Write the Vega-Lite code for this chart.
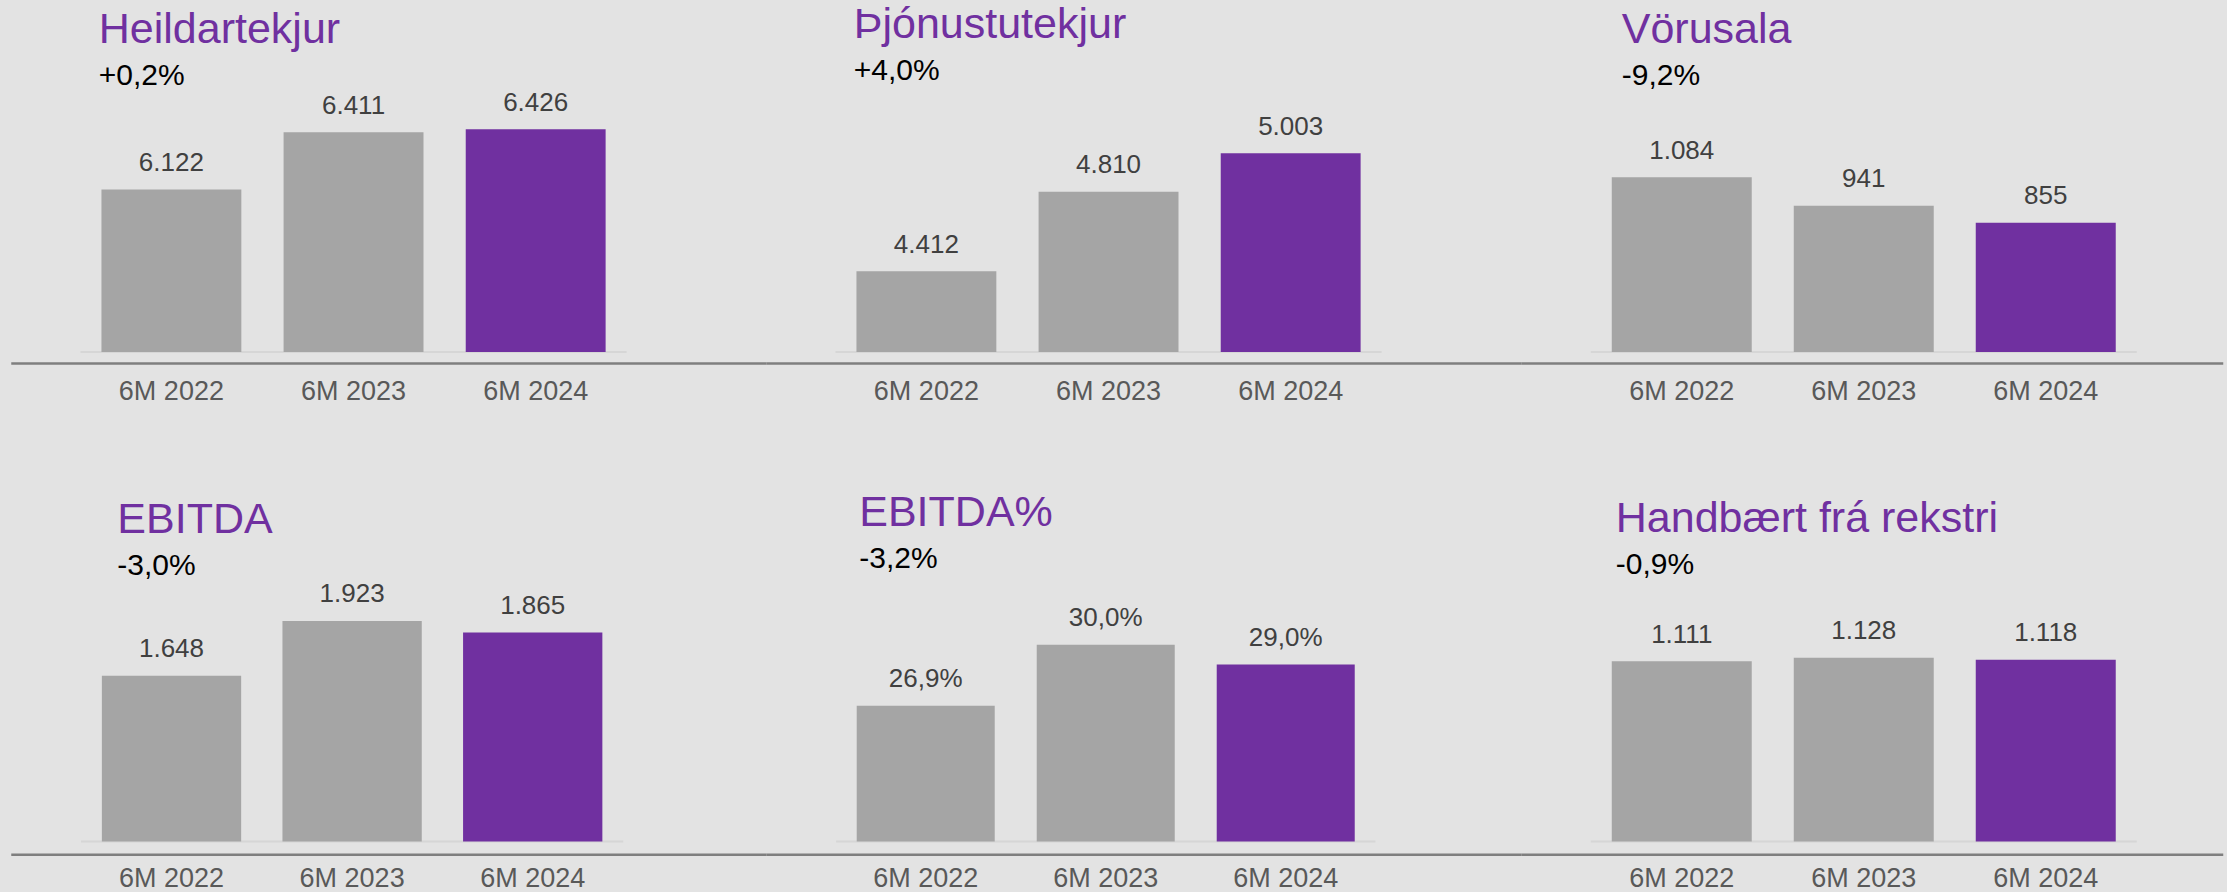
{
  "$schema": "https://vega.github.io/schema/vega-lite/v6.json",
  "background": "#e3e3e3",
  "padding": {"left": 10.75, "top": 4, "right": 3.75, "bottom": 0},
  "config": {
    "view": {"stroke": null},
    "font": "Liberation Sans",
    "title": {"anchor": "start", "frame": "group", "font": "Liberation Sans", "fontSize": 43, "fontWeight": "normal", "color": "#7030a0", "subtitleFont": "Liberation Sans", "subtitleFontSize": 30, "subtitleFontWeight": "normal", "subtitleColor": "#000000", "subtitlePadding": 9, "offset": -31.3},
    "axis": {"labelFont": "Liberation Sans", "labelFontSize": 27, "labelColor": "#595959", "domainColor": "#7f7f7f", "domainWidth": 2.5, "ticks": false, "tickSize": 0, "grid": false, "labelAngle": 0, "labelBaseline": "alphabetic"},
    "text": {"font": "Liberation Sans", "fontSize": 26, "color": "#404040", "baseline": "alphabetic", "align": "center", "dy": -18.5},
    "locale": {"number": {"decimal": ",", "thousands": ".", "grouping": [3], "currency": ["", ""]}}
  },
  "datasets": {
    "kpi": [
      {"metric": "Heildartekjur", "period": "6M 2022", "value": 6122},
      {"metric": "Heildartekjur", "period": "6M 2023", "value": 6411},
      {"metric": "Heildartekjur", "period": "6M 2024", "value": 6426},
      {"metric": "Þjónustutekjur", "period": "6M 2022", "value": 4412},
      {"metric": "Þjónustutekjur", "period": "6M 2023", "value": 4810},
      {"metric": "Þjónustutekjur", "period": "6M 2024", "value": 5003},
      {"metric": "Vörusala", "period": "6M 2022", "value": 1084},
      {"metric": "Vörusala", "period": "6M 2023", "value": 941},
      {"metric": "Vörusala", "period": "6M 2024", "value": 855},
      {"metric": "EBITDA", "period": "6M 2022", "value": 1648},
      {"metric": "EBITDA", "period": "6M 2023", "value": 1923},
      {"metric": "EBITDA", "period": "6M 2024", "value": 1865},
      {"metric": "EBITDA%", "period": "6M 2022", "value": 0.269},
      {"metric": "EBITDA%", "period": "6M 2023", "value": 0.300},
      {"metric": "EBITDA%", "period": "6M 2024", "value": 0.290},
      {"metric": "Handbært frá rekstri", "period": "6M 2022", "value": 1111},
      {"metric": "Handbært frá rekstri", "period": "6M 2023", "value": 1128},
      {"metric": "Handbært frá rekstri", "period": "6M 2024", "value": 1118}
    ]
  },
  "columns": 3,
  "spacing": {"row": 197.6, "column": 0},
  "bounds": "flush",
  "align": "each",
  "concat": [
    {
      "data": {"name": "kpi"},
      "transform": [{"filter": {"field": "metric", "equal": "Heildartekjur"}}],
      "title": {"text": "Heildartekjur", "subtitle": "+0,2%", "dx": 88},
      "width": 755, "height": 292,
      "layer": [
        {"transform": [{"filter": {"field": "period", "equal": "6M 2024"}}],
         "mark": {"type": "rule", "color": "#d6d6d6", "strokeWidth": 2},
         "encoding": {
           "x": {"datum": "6M 2022", "type": "nominal", "bandPosition": -0.15, "scale": {"domain": ["6M 2022", "6M 2023", "6M 2024"], "paddingInner": 0.232, "paddingOuter": 0.6885, "align": 0.3616}, "axis": {"title": null, "offset": 11, "labelPadding": 36.3}},
           "x2": {"datum": "6M 2024", "bandPosition": 1.15},
           "y": {"datum": 5303.6, "type": "quantitative", "scale": {"domain": [5303.6, 6775], "nice": false, "zero": false, "clamp": true}, "axis": null}}},
        {"mark": {"type": "bar"},
         "encoding": {
           "x": {"field": "period", "type": "nominal", "sort": null, "scale": {"domain": ["6M 2022", "6M 2023", "6M 2024"], "paddingInner": 0.232, "paddingOuter": 0.6885, "align": 0.3616}, "axis": {"title": null, "offset": 11, "labelPadding": 36.3}},
           "y": {"field": "value", "type": "quantitative", "scale": {"domain": [5303.6, 6775], "nice": false, "zero": false, "clamp": true}, "axis": null},
           "color": {"field": "period", "type": "nominal", "scale": {"domain": ["6M 2022", "6M 2023", "6M 2024"], "range": ["#a5a5a5", "#a5a5a5", "#7030a0"]}, "legend": null}}},
        {"mark": {"type": "text"},
         "encoding": {
           "x": {"field": "period", "type": "nominal", "sort": null, "scale": {"domain": ["6M 2022", "6M 2023", "6M 2024"], "paddingInner": 0.232, "paddingOuter": 0.6885, "align": 0.3616}, "axis": {"title": null, "offset": 11, "labelPadding": 36.3}},
           "y": {"field": "value", "type": "quantitative", "scale": {"domain": [5303.6, 6775], "nice": false, "zero": false, "clamp": true}, "axis": null},
           "text": {"field": "value", "format": ",.0f"}}}
      ]
    },
    {
      "data": {"name": "kpi"},
      "transform": [{"filter": {"field": "metric", "equal": "Þjónustutekjur"}}],
      "title": {"text": "Þjónustutekjur", "subtitle": "+4,0%", "dx": 88, "dy": -5},
      "width": 755, "height": 292,
      "layer": [
        {"transform": [{"filter": {"field": "period", "equal": "6M 2024"}}],
         "mark": {"type": "rule", "color": "#d6d6d6", "strokeWidth": 2},
         "encoding": {
           "x": {"datum": "6M 2022", "type": "nominal", "bandPosition": -0.15, "scale": {"domain": ["6M 2022", "6M 2023", "6M 2024"], "paddingInner": 0.232, "paddingOuter": 0.6885, "align": 0.3616}, "axis": {"title": null, "offset": 11, "labelPadding": 36.3}},
           "x2": {"datum": "6M 2024", "bandPosition": 1.15},
           "y": {"datum": 4007.7, "type": "quantitative", "scale": {"domain": [4007.7, 5470.6], "nice": false, "zero": false, "clamp": true}, "axis": null}}},
        {"mark": {"type": "bar"},
         "encoding": {
           "x": {"field": "period", "type": "nominal", "sort": null, "scale": {"domain": ["6M 2022", "6M 2023", "6M 2024"], "paddingInner": 0.232, "paddingOuter": 0.6885, "align": 0.3616}, "axis": {"title": null, "offset": 11, "labelPadding": 36.3}},
           "y": {"field": "value", "type": "quantitative", "scale": {"domain": [4007.7, 5470.6], "nice": false, "zero": false, "clamp": true}, "axis": null},
           "color": {"field": "period", "type": "nominal", "scale": {"domain": ["6M 2022", "6M 2023", "6M 2024"], "range": ["#a5a5a5", "#a5a5a5", "#7030a0"]}, "legend": null}}},
        {"mark": {"type": "text"},
         "encoding": {
           "x": {"field": "period", "type": "nominal", "sort": null, "scale": {"domain": ["6M 2022", "6M 2023", "6M 2024"], "paddingInner": 0.232, "paddingOuter": 0.6885, "align": 0.3616}, "axis": {"title": null, "offset": 11, "labelPadding": 36.3}},
           "y": {"field": "value", "type": "quantitative", "scale": {"domain": [4007.7, 5470.6], "nice": false, "zero": false, "clamp": true}, "axis": null},
           "text": {"field": "value", "format": ",.0f"}}}
      ]
    },
    {
      "data": {"name": "kpi"},
      "transform": [{"filter": {"field": "metric", "equal": "Vörusala"}}],
      "title": {"text": "Vörusala", "subtitle": "-9,2%", "dx": 101},
      "width": 702, "height": 292,
      "layer": [
        {"transform": [{"filter": {"field": "period", "equal": "6M 2024"}}],
         "mark": {"type": "rule", "color": "#d6d6d6", "strokeWidth": 2},
         "encoding": {
           "x": {"datum": "6M 2022", "type": "nominal", "bandPosition": -0.15, "scale": {"domain": ["6M 2022", "6M 2023", "6M 2024"], "paddingInner": 0.2308, "paddingOuter": 0.544, "align": 0.4596}, "axis": {"title": null, "offset": 11, "labelPadding": 36.3}},
           "x2": {"datum": "6M 2024", "bandPosition": 1.15},
           "y": {"datum": 202, "type": "quantitative", "scale": {"domain": [202, 1676.6], "nice": false, "zero": false, "clamp": true}, "axis": null}}},
        {"mark": {"type": "bar"},
         "encoding": {
           "x": {"field": "period", "type": "nominal", "sort": null, "scale": {"domain": ["6M 2022", "6M 2023", "6M 2024"], "paddingInner": 0.2308, "paddingOuter": 0.544, "align": 0.4596}, "axis": {"title": null, "offset": 11, "labelPadding": 36.3}},
           "y": {"field": "value", "type": "quantitative", "scale": {"domain": [202, 1676.6], "nice": false, "zero": false, "clamp": true}, "axis": null},
           "color": {"field": "period", "type": "nominal", "scale": {"domain": ["6M 2022", "6M 2023", "6M 2024"], "range": ["#a5a5a5", "#a5a5a5", "#7030a0"]}, "legend": null}}},
        {"mark": {"type": "text"},
         "encoding": {
           "x": {"field": "period", "type": "nominal", "sort": null, "scale": {"domain": ["6M 2022", "6M 2023", "6M 2024"], "paddingInner": 0.2308, "paddingOuter": 0.544, "align": 0.4596}, "axis": {"title": null, "offset": 11, "labelPadding": 36.3}},
           "y": {"field": "value", "type": "quantitative", "scale": {"domain": [202, 1676.6], "nice": false, "zero": false, "clamp": true}, "axis": null},
           "text": {"field": "value", "format": ",.0f"}}}
      ]
    },
    {
      "data": {"name": "kpi"},
      "transform": [{"filter": {"field": "metric", "equal": "EBITDA"}}],
      "title": {"text": "EBITDA", "subtitle": "-3,0%", "dx": 106.6},
      "width": 755, "height": 292,
      "layer": [
        {"transform": [{"filter": {"field": "period", "equal": "6M 2024"}}],
         "mark": {"type": "rule", "color": "#d6d6d6", "strokeWidth": 2},
         "encoding": {
           "x": {"datum": "6M 2022", "type": "nominal", "bandPosition": -0.15, "scale": {"domain": ["6M 2022", "6M 2023", "6M 2024"], "paddingInner": 0.2287, "paddingOuter": 0.7046, "align": 0.358}, "axis": {"title": null, "offset": 12.7, "labelPadding": 32}},
           "x2": {"datum": "6M 2024", "bandPosition": 1.15},
           "y": {"datum": 815, "type": "quantitative", "scale": {"domain": [815, 2280.8], "nice": false, "zero": false, "clamp": true}, "axis": null}}},
        {"mark": {"type": "bar"},
         "encoding": {
           "x": {"field": "period", "type": "nominal", "sort": null, "scale": {"domain": ["6M 2022", "6M 2023", "6M 2024"], "paddingInner": 0.2287, "paddingOuter": 0.7046, "align": 0.358}, "axis": {"title": null, "offset": 12.7, "labelPadding": 32}},
           "y": {"field": "value", "type": "quantitative", "scale": {"domain": [815, 2280.8], "nice": false, "zero": false, "clamp": true}, "axis": null},
           "color": {"field": "period", "type": "nominal", "scale": {"domain": ["6M 2022", "6M 2023", "6M 2024"], "range": ["#a5a5a5", "#a5a5a5", "#7030a0"]}, "legend": null}}},
        {"mark": {"type": "text"},
         "encoding": {
           "x": {"field": "period", "type": "nominal", "sort": null, "scale": {"domain": ["6M 2022", "6M 2023", "6M 2024"], "paddingInner": 0.2287, "paddingOuter": 0.7046, "align": 0.358}, "axis": {"title": null, "offset": 12.7, "labelPadding": 32}},
           "y": {"field": "value", "type": "quantitative", "scale": {"domain": [815, 2280.8], "nice": false, "zero": false, "clamp": true}, "axis": null},
           "text": {"field": "value", "format": ",.0f"}}}
      ]
    },
    {
      "data": {"name": "kpi"},
      "transform": [{"filter": {"field": "metric", "equal": "EBITDA%"}}],
      "title": {"text": "EBITDA%", "subtitle": "-3,2%", "dx": 93.5, "dy": -7.3},
      "width": 755, "height": 292,
      "layer": [
        {"transform": [{"filter": {"field": "period", "equal": "6M 2024"}}],
         "mark": {"type": "rule", "color": "#d6d6d6", "strokeWidth": 2},
         "encoding": {
           "x": {"datum": "6M 2022", "type": "nominal", "bandPosition": -0.15, "scale": {"domain": ["6M 2022", "6M 2023", "6M 2024"], "paddingInner": 0.2333, "paddingOuter": 0.7139, "align": 0.354}, "axis": {"title": null, "offset": 12.7, "labelPadding": 32}},
           "x2": {"datum": "6M 2024", "bandPosition": 1.15},
           "y": {"datum": 0.2, "type": "quantitative", "scale": {"domain": [0.2, 0.3483], "nice": false, "zero": false, "clamp": true}, "axis": null}}},
        {"mark": {"type": "bar"},
         "encoding": {
           "x": {"field": "period", "type": "nominal", "sort": null, "scale": {"domain": ["6M 2022", "6M 2023", "6M 2024"], "paddingInner": 0.2333, "paddingOuter": 0.7139, "align": 0.354}, "axis": {"title": null, "offset": 12.7, "labelPadding": 32}},
           "y": {"field": "value", "type": "quantitative", "scale": {"domain": [0.2, 0.3483], "nice": false, "zero": false, "clamp": true}, "axis": null},
           "color": {"field": "period", "type": "nominal", "scale": {"domain": ["6M 2022", "6M 2023", "6M 2024"], "range": ["#a5a5a5", "#a5a5a5", "#7030a0"]}, "legend": null}}},
        {"mark": {"type": "text"},
         "encoding": {
           "x": {"field": "period", "type": "nominal", "sort": null, "scale": {"domain": ["6M 2022", "6M 2023", "6M 2024"], "paddingInner": 0.2333, "paddingOuter": 0.7139, "align": 0.354}, "axis": {"title": null, "offset": 12.7, "labelPadding": 32}},
           "y": {"field": "value", "type": "quantitative", "scale": {"domain": [0.2, 0.3483], "nice": false, "zero": false, "clamp": true}, "axis": null},
           "text": {"field": "value", "format": ".1%"}}}
      ]
    },
    {
      "data": {"name": "kpi"},
      "transform": [{"filter": {"field": "metric", "equal": "Handbært frá rekstri"}}],
      "title": {"text": "Handbært frá rekstri", "subtitle": "-0,9%", "dx": 95, "dy": -0.6},
      "width": 702, "height": 292,
      "layer": [
        {"transform": [{"filter": {"field": "period", "equal": "6M 2024"}}],
         "mark": {"type": "rule", "color": "#d6d6d6", "strokeWidth": 2},
         "encoding": {
           "x": {"datum": "6M 2022", "type": "nominal", "bandPosition": -0.15, "scale": {"domain": ["6M 2022", "6M 2023", "6M 2024"], "paddingInner": 0.2308, "paddingOuter": 0.544, "align": 0.4596}, "axis": {"title": null, "offset": 12.7, "labelPadding": 32}},
           "x2": {"datum": "6M 2024", "bandPosition": 1.15},
           "y": {"datum": 200, "type": "quantitative", "scale": {"domain": [200, 1674.6], "nice": false, "zero": false, "clamp": true}, "axis": null}}},
        {"mark": {"type": "bar"},
         "encoding": {
           "x": {"field": "period", "type": "nominal", "sort": null, "scale": {"domain": ["6M 2022", "6M 2023", "6M 2024"], "paddingInner": 0.2308, "paddingOuter": 0.544, "align": 0.4596}, "axis": {"title": null, "offset": 12.7, "labelPadding": 32}},
           "y": {"field": "value", "type": "quantitative", "scale": {"domain": [200, 1674.6], "nice": false, "zero": false, "clamp": true}, "axis": null},
           "color": {"field": "period", "type": "nominal", "scale": {"domain": ["6M 2022", "6M 2023", "6M 2024"], "range": ["#a5a5a5", "#a5a5a5", "#7030a0"]}, "legend": null}}},
        {"mark": {"type": "text"},
         "encoding": {
           "x": {"field": "period", "type": "nominal", "sort": null, "scale": {"domain": ["6M 2022", "6M 2023", "6M 2024"], "paddingInner": 0.2308, "paddingOuter": 0.544, "align": 0.4596}, "axis": {"title": null, "offset": 12.7, "labelPadding": 32}},
           "y": {"field": "value", "type": "quantitative", "scale": {"domain": [200, 1674.6], "nice": false, "zero": false, "clamp": true}, "axis": null},
           "text": {"field": "value", "format": ",.0f"}}}
      ]
    }
  ]
}
